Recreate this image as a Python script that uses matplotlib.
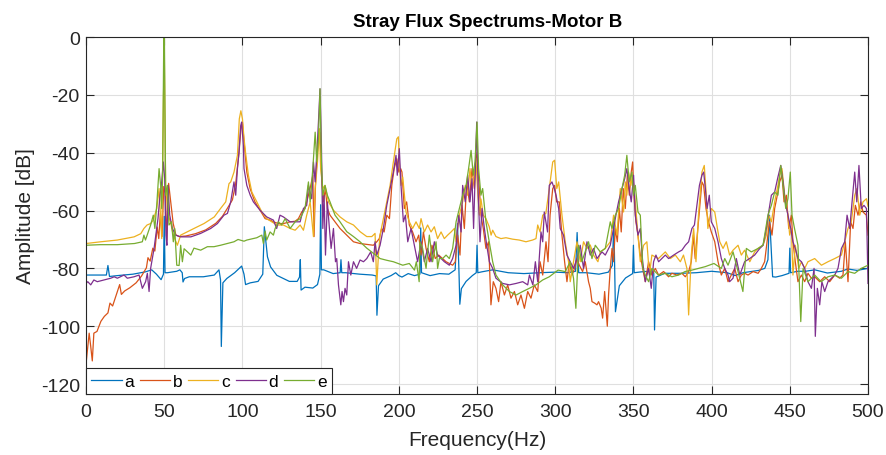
import numpy as np
import matplotlib
matplotlib.use("Agg")
import matplotlib.pyplot as plt

plt.rcParams['font.family'] = ['Liberation Sans', 'DejaVu Sans']
plt.rcParams['axes.unicode_minus'] = False

# (frequency Hz, amplitude dB)
a = [(0, -82.3), (13, -82.3), (14, -79), (15, -82.8), (20, -82.5), (30, -82), (38, -81.2), (42, -80.5),
     (45, -82), (48, -83.9), (49.5, -82), (50, -62), (50.5, -81.5), (52, -81.5), (58, -81), (60, -80.5),
     (61.5, -81.5), (62, -84.7), (63, -83.5), (66, -82.9), (75, -82.9), (82, -82.3), (85, -80.5), (86, -84),
     (86.5, -107), (87.5, -85), (90, -83.5), (95, -81.5), (99.5, -79.2), (101, -82), (102, -85.6), (105, -85),
     (110, -84.5), (113, -82), (114, -65.6), (116, -76), (118, -79.5), (122, -82.4), (130, -84.5), (135, -84.5),
     (136.5, -83), (137, -77), (137.5, -87.5), (140, -86.5), (145, -86.8), (148, -85.6), (149.5, -82), (150, -58),
     (150.5, -80.5), (152, -80.5), (158, -81.8), (162.5, -81.5), (163, -77), (163.5, -81.5), (166, -81.5),
     (175, -82), (183, -82.3), (185.5, -82.6), (186, -96.2), (187, -86), (190, -83.7), (195, -82.5), (198, -81.5),
     (200, -82.5), (202, -83), (206, -81.8), (210, -82.5), (213.5, -82), (214, -66), (214.5, -81.5), (220, -82.5),
     (226, -81.8), (232, -82), (236, -80.5), (237.5, -64.5), (238.5, -82), (239, -92.4), (240, -87), (243, -84.5),
     (247, -82.5), (249.5, -81.5), (250, -72), (250.5, -81.5), (253, -81.2), (260, -80.5), (270, -81.5),
     (280, -81.8), (290, -81.5), (300, -81.3), (308, -81.5), (313, -81), (314, -67.6), (315, -81.5), (320, -81.5),
     (328, -82), (334, -81.3), (336.5, -79), (337.5, -64), (338.5, -95), (341, -86), (345, -83.3), (349.5, -81.8),
     (350, -72), (350.5, -81.5), (355, -81.2), (360, -81), (363, -81.5), (363.5, -101.3), (364.5, -83),
     (370, -81.7), (380, -81.7), (390, -81.5), (400, -81), (410, -81.5), (415, -82.5), (420, -81.5), (430, -80.7),
     (434, -80), (436, -77), (437, -61.6), (439, -82.9), (441, -83), (445, -82.5), (449.5, -81.7), (450, -73),
     (450.5, -81.5), (455, -81), (460, -81), (466, -80.5), (474, -81.6), (483, -81), (487, -80.2), (493, -80.7),
     (500, -80)]

b = [(0, -113), (2, -102.4), (3, -107), (4, -112), (5, -102.4), (7, -101.8), (9.5, -98.3), (11.7, -96.6),
     (14, -95.4), (15.3, -92), (17, -93), (19.4, -89), (21.5, -85.6), (22.6, -89), (24.7, -87.8), (28, -86.7),
     (32, -85), (35.4, -82.7), (38.6, -79.8), (39.6, -76.3), (41, -77.5), (42.7, -73), (44, -74), (45.5, -65.7),
     (46.5, -69.7), (47.5, -61), (48.6, -69), (49.7, -51.7), (50.7, -54), (51.7, -70.3), (52.8, -50.6),
     (54, -56.3), (55.7, -64.4), (57.4, -68.4), (59.5, -69), (63.8, -68.8), (70, -68), (76.5, -66.7), (83, -64.4),
     (87.2, -62), (90.4, -59.2), (93.6, -56.3), (95.7, -50.6), (97.8, -40), (99, -32), (100, -29.5), (101, -36),
     (102.8, -46.7), (104.9, -52.4), (108, -57), (111.3, -59.9), (114.5, -62.8), (117.7, -63.3), (119.8, -63.9),
     (123, -64.5), (126.2, -64.5), (130.5, -63.9), (133.7, -63.7), (135.8, -62.8), (137.9, -60.5), (140, -59.3),
     (142.2, -54.7), (143.7, -51.3), (145, -47.8), (145.8, -69), (146.7, -51.3), (148, -38.6), (148.8, -35.2),
     (149.6, -33), (150.7, -49), (151.8, -57), (153, -52.4), (154.3, -59.3), (156, -61.6), (159.2, -63.9),
     (162.4, -66.2), (166.7, -68.5), (171, -70.8), (175.2, -71.4), (179.5, -71.7), (183.7, -72), (185.9, -70.8),
     (187.5, -69.7), (189, -66.2), (190.6, -67.4), (192.3, -61.6), (194, -62.8), (195.5, -51.3), (197, -45.5),
     (198.7, -42.1), (200, -46.7), (201.2, -45.5), (202, -46.7), (203.5, -59.3), (205, -57), (206.7, -65),
     (208.8, -67.4), (211, -70.8), (212.7, -68.5), (214.2, -75.4), (215.7, -67.4), (217.4, -73.1), (219.5, -77.7),
     (221.2, -72), (223.3, -76.6), (225.5, -75.4), (228, -76.6), (230.2, -77.7), (232.3, -78.3), (234.4, -78.9),
     (236.1, -77.7), (237.6, -68.5), (239.1, -75.4), (240.4, -58.2), (241.9, -66.2), (243.4, -50.1), (245.1, -57),
     (246.8, -45.5), (248.3, -52.4), (249.3, -40), (250.3, -44), (251.5, -52.4), (252.5, -61.6), (254, -66.2),
     (255.7, -73.1), (257.4, -70.8), (258.9, -92.6), (260.4, -84.6), (262.1, -86.9), (263.8, -91.5),
     (265.3, -84.6), (267.5, -89.2), (269.6, -85.7), (271.7, -90.3), (273.9, -88), (276, -92.6), (278.1, -89.2),
     (280.3, -93.8), (282.4, -88), (284.5, -90.3), (286.6, -85.7), (288.8, -88), (290.3, -77.7), (292, -82.3),
     (294.1, -70.8), (295.4, -77.7), (296.7, -61.6), (298.4, -52.4), (299.6, -51.3), (300.9, -57), (302.6, -57),
     (304.3, -68.5), (306, -77.7), (307.5, -84.6), (309, -77.7), (310.7, -82.3), (312.4, -80), (313.9, -76.6),
     (315.4, -78.9), (317.5, -81.1), (319.2, -77.7), (321.3, -84.6), (322.4, -86.9), (323.5, -91.5),
     (325.2, -92), (326.7, -92.6), (327.7, -91.5), (329.4, -93.8), (330.3, -97.2), (331.6, -88), (332.4, -93.8),
     (333.3, -100), (334.1, -89.2), (335.2, -80), (336.3, -73.1), (337.3, -77.7), (338.4, -66.2), (339.7, -70.8),
     (341, -59.3), (342.2, -67.4), (343.5, -52.4), (344.8, -59.3), (346.1, -47.8), (347.4, -54.7),
     (348.6, -46.7), (349.5, -43.2), (350.3, -54.7), (351.6, -63.9), (352.9, -68.5), (354.4, -75.4),
     (355.9, -80), (357.6, -84.6), (359.7, -77.7), (361.8, -82.3), (364, -80), (366.1, -82.3), (369.3, -81.1),
     (372.5, -82.9), (374.6, -81.7), (377.8, -82.3), (381, -81.7), (383.2, -82.9), (385.3, -81.1), (387, -77.7),
     (388.3, -68.5), (389.5, -76.6), (391.2, -66.2), (392.7, -57), (393.8, -50.1), (394.9, -51.3),
     (396.4, -59.3), (398, -63.9), (399.8, -67.4), (402, -70.8), (404.1, -77.7), (406.2, -82.3), (408.4, -80),
     (410.5, -84.6), (412.6, -82.3), (414.8, -80), (416.9, -84.6), (419, -82.3), (421.1, -81.7), (423.3, -82.3),
     (426.5, -81.1), (429.7, -81.7), (431.8, -80), (433.9, -77.7), (436, -68.5), (437, -63.9), (438.6, -68.5),
     (440.3, -59.3), (442, -54.7), (443.5, -50.1), (445, -47.8), (446.3, -57), (447.8, -54.7), (449.3, -66.2),
     (451, -61.6), (452, -70.8), (453.5, -77.7), (455.2, -84.6), (457.4, -82.3), (459.5, -84.6), (461.6, -81.7),
     (463.8, -83.4), (465.9, -82.9), (469.1, -84.6), (472.3, -82.9), (475.5, -84.6), (478.7, -82.3),
     (481.9, -83.4), (484, -82.3), (485.5, -70.8), (487.2, -84.6), (488.9, -63.9), (490.4, -66.2),
     (491.9, -58.2), (493.6, -61.6), (495.3, -57), (496.8, -60.5), (498.9, -61.6), (500, -68.5)]

c = [(0, -71.4), (9.4, -70.8), (20, -70.2), (30.7, -69.1), (35, -68), (37, -66.2), (39, -65), (41.3, -64.5),
     (43, -63.3), (45.2, -59.3), (46.7, -52.4), (48.4, -69.7), (49.5, -20), (50.1, -8), (50.9, -51.3),
     (52.4, -61.6), (54, -63.9), (55.8, -68.5), (58.4, -72), (60.5, -68.5), (62.7, -67.9), (69, -66.2),
     (75.4, -64.5), (82, -62.2), (86, -59.3), (89.3, -57), (91.4, -50.7), (92.5, -50.1), (94.6, -46.7),
     (96.8, -40.9), (98, -28.3), (99, -25.5), (100, -28.3), (101, -35), (102, -40), (103.8, -47.8), (106, -53.6),
     (109.2, -57), (112.4, -60.5), (115.5, -62.8), (118.7, -63.9), (122, -65), (126.2, -65), (130.5, -66.2),
     (133.7, -66.8), (136.9, -65), (139, -66.8), (141.1, -61.6), (143.3, -57), (145.4, -69), (146.5, -52.4),
     (148, -43.2), (149.2, -31.7), (150, -45.5), (151.4, -52.4), (152.8, -51.3), (155, -57), (158.2, -59.9),
     (162.4, -62.2), (166.7, -63.9), (171, -65), (175.2, -67.3), (179.5, -69), (182.7, -69), (184.8, -67.9),
     (185.9, -85.7), (187, -75), (188, -68.5), (190.1, -62.8), (192.3, -57), (194.4, -51.3), (196.5, -43.2),
     (198.7, -35.2), (199.7, -34.5), (200.3, -43.2), (201.4, -51.3), (202.5, -48.4), (204.6, -60.5),
     (206.7, -63.9), (208.8, -66.2), (211, -63.9), (213.1, -66.2), (214.2, -62.8), (216.3, -67.4), (218.4, -65),
     (220.6, -67.4), (222.7, -65.6), (224.8, -69.7), (227, -67.4), (229.1, -69.7), (231.2, -68.5), (233.4, -67.4),
     (235.5, -66.2), (236.6, -70.8), (238.7, -61.6), (240.8, -57), (242.5, -51.3), (244, -54.7), (245.5, -45.5),
     (246.8, -52.4), (248.3, -47.8), (249.3, -42), (250.3, -52.4), (251.5, -61.6), (252.5, -56), (254, -61.6),
     (255.7, -62.8), (257.8, -65.6), (259, -68.5), (260, -66.8), (262.1, -69), (265.3, -69.7), (268.5, -69.4),
     (272.8, -69.9), (277, -70.2), (281.3, -70.8), (285.5, -70.2), (287.7, -69.7), (288.8, -65), (290.3, -67.4),
     (292, -61.6), (294, -61), (296.2, -52.4), (298.4, -43.2), (299.6, -42.6), (301, -52.4), (302.2, -50.1),
     (304.3, -61.6), (306.4, -70.8), (308.5, -77.7), (309.6, -84.6), (311.7, -77.7), (313.9, -70.8),
     (316, -77.7), (318.1, -70.8), (320.3, -73.1), (322.4, -71.9), (324.5, -75.4), (327.3, -77.7),
     (328.8, -74.3), (332, -73.1), (335.2, -70.8), (337.3, -61.6), (339.5, -68.5), (341.6, -52.4),
     (343.7, -60.5), (344.8, -50.1), (345.8, -54.7), (346.9, -46.7), (348.4, -51.3), (349.5, -47.8), (351.2, -57),
     (352.9, -68.5), (354.4, -77.7), (356.5, -72), (358.6, -70.8), (360.2, -82.3), (361.8, -75.4), (366, -76.6),
     (370.4, -74.3), (373.6, -76.6), (376.8, -75.4), (380, -77.7), (382, -75.4), (384.2, -80), (385.3, -96.1),
     (387, -75.4), (388.5, -66.2), (390, -77.7), (391.6, -61.6), (393.8, -46.7), (395.3, -44.4), (396.3, -52.4),
     (397.6, -66.2), (399.8, -59.3), (402, -60.5), (403.7, -66.2), (405.2, -70.8), (407.3, -73.1), (409.4, -70.8),
     (411.5, -75.4), (413.7, -73.7), (416.9, -72), (419, -75.4), (421.1, -73.7), (424.4, -77.7), (427.5, -74.3),
     (429.7, -73.1), (432.9, -72), (435, -68.5), (436.5, -61.6), (438.2, -63.9), (440.3, -57), (442.4, -51.3),
     (443.5, -47.8), (445, -45.5), (446.7, -54.7), (448.8, -61.6), (449.9, -68.5), (451, -66.2), (452, -82.3),
     (453.5, -72), (455.7, -80), (457.4, -77.7), (459.5, -80), (461.6, -77.7), (465.9, -76.6), (470.2, -78.9),
     (474.4, -77.7), (478.7, -76.6), (483, -75.4), (485.1, -70.8), (487.2, -66.2), (489.3, -63.9), (491.5, -54.7),
     (492.9, -52.4), (494.7, -61.6), (496.8, -57), (499, -55.9), (500, -58.5)]

d = [(0, -85.2), (1.1, -84.6), (3, -85.7), (5, -84), (7.2, -84.6), (11.5, -84), (15.8, -83.4), (18, -82.9),
     (20, -83.4), (22, -82.9), (24.3, -82.3), (26.4, -83.4), (30.7, -82.9), (33.9, -82.3), (36, -86.9),
     (38.1, -84.6), (39.2, -81.7), (40.3, -88), (41.3, -80), (43.5, -73.1), (45.2, -66.2), (46, -62.8),
     (47.3, -54.7), (48.4, -50.1), (49.4, -43.2), (50.3, -49), (51.1, -68.5), (51.7, -72), (52.4, -51.3),
     (53.5, -61.6), (55.2, -66.2), (57.3, -68.5), (60.5, -69.1), (67, -69.1), (73.3, -67.9), (79.7, -66.2),
     (84, -64.5), (88.2, -61.6), (90.4, -61), (92.5, -57), (94.6, -50.1), (95.7, -54.7), (96.8, -45.5),
     (97.8, -39.8), (98.9, -30.6), (99.5, -29.4), (100.6, -37.5), (101, -45.5), (102.8, -51.3), (105, -54.7),
     (107, -57), (111.3, -59.9), (115.5, -62.2), (119.8, -63.3), (121.9, -66.2), (124, -61.6), (126.2, -62.2),
     (130.5, -63.9), (134.7, -63.9), (136.9, -63.9), (139, -59.3), (141.1, -58.2), (142.2, -51.3), (144.3, -55.9),
     (145.4, -43.2), (146.5, -50.1), (147.5, -40.9), (148.6, -29.4), (149.6, -17.9), (150.5, -37.5),
     (151.4, -66.2), (152.2, -54.7), (153.1, -75.4), (154.3, -57), (155.6, -66.2), (156.7, -73.1), (158.2, -66.2),
     (159.5, -77.7), (160.3, -76.6), (161.4, -85.7), (162.9, -92.6), (163.7, -88), (164.6, -91.5), (165.6, -86.9),
     (166.7, -89.2), (167.8, -77.7), (169.3, -82.3), (171, -77.7), (173, -80), (175.2, -77.1), (177.4, -77.7),
     (179.5, -76.6), (182, -74.3), (183.7, -77.7), (184.8, -70.8), (185.9, -75.4), (188, -72), (190.1, -66.2),
     (192.3, -58.2), (194.4, -52.4), (196.5, -46.7), (198.2, -40.9), (199, -47.8), (200.3, -38.6), (201.4, -51.3),
     (202.9, -63.9), (204.2, -61.6), (205.7, -70.8), (207.8, -66.2), (209.9, -72), (212, -77.7), (214.2, -70.8),
     (216.3, -77.7), (218.4, -73.1), (220.6, -77.7), (222.7, -70.8), (224.8, -75.4), (227, -76.6), (229.1, -77.7),
     (232.3, -78.9), (234.4, -76.6), (236.6, -72), (238.3, -61.6), (239.8, -67.4), (240.8, -51.3), (242.5, -57),
     (244, -47.8), (245.5, -57), (246.8, -49), (247.8, -66.2), (248.9, -45.5), (249.8, -29.4), (250.8, -54.7),
     (251.9, -70.8), (253.2, -59.3), (254.7, -66.2), (256.2, -72), (257.9, -77.7), (260, -80), (262.1, -83.4),
     (266.4, -85.2), (270.7, -85.7), (275, -85.2), (279.2, -84.6), (282.4, -85.7), (283.5, -82.3), (285.7, -85.7),
     (287.3, -77.7), (288.8, -84.6), (290.9, -67.4), (292, -70.8), (293, -60.5), (295.1, -67.4), (296.2, -51.3),
     (297.9, -50.1), (299.4, -52.4), (300.5, -54.7), (302.2, -59.3), (303.2, -66.2), (305.3, -68.5),
     (307.5, -75.4), (309.6, -77.7), (311.7, -80), (313.9, -76.6), (316, -72), (318.1, -80), (320.3, -70.8),
     (322.4, -75.4), (324.5, -73.1), (326.7, -76.6), (329.9, -74.3), (332, -75.4), (335.2, -72), (337.3, -66.2),
     (338.8, -61.6), (340.5, -57), (342.7, -52.4), (344.4, -49), (345.8, -45.5), (347.3, -52.4), (348.6, -57),
     (350.1, -47.8), (351.2, -61.6), (352.9, -68.5), (354.4, -66.2), (355.9, -77.7), (357.6, -84.6),
     (359.7, -80), (361.4, -86.9), (362.9, -77.7), (364.4, -75.4), (366.1, -77.7), (368.2, -76.6), (370.4, -75.4),
     (372.5, -76.6), (375.7, -75.4), (378.9, -74.3), (381, -73.7), (383.2, -72), (385.3, -70.8), (387.4, -66.2),
     (389, -65), (390.6, -58.2), (392.2, -51.3), (393.8, -47.8), (394.9, -46.7), (396, -52.4), (397.1, -59.3),
     (398.5, -54.7), (399.8, -63.9), (402, -66.2), (404.1, -70.8), (406.2, -76.6), (408.4, -80), (410.5, -82.3),
     (411.5, -84.6), (413.7, -83.4), (415.8, -76.6), (418, -82.3), (421.1, -77.7), (424.3, -76.6), (427.5, -75.4),
     (430.8, -73.1), (432.9, -72), (435, -66.2), (436.5, -60.5), (438.2, -54.7), (440.3, -53.6), (442.4, -48.4),
     (444.2, -44.4), (445.7, -50.1), (447.1, -57), (448.8, -61.6), (450.6, -66.2), (452, -70.8), (453.5, -73.1),
     (455.2, -76.6), (457.4, -77.7), (459.5, -80), (461.6, -84.6), (463.8, -86.9), (465.5, -80), (466.3, -103.5),
     (467.6, -86.9), (469.1, -92.6), (470.5, -84.6), (472.3, -88), (474.4, -84.6), (476.6, -83.4), (478.7, -82.3),
     (480.8, -80), (483, -73.1), (485.1, -70.8), (486.6, -61.6), (488.3, -66.2), (489.8, -57), (491.5, -46.7),
     (492.8, -57), (494.2, -44.4), (495.7, -59.3), (497.4, -58.2), (499, -59.3), (500, -85.2)]

e = [(0, -72), (9, -71.8), (20, -71.8), (31, -71.4), (36, -70.8), (37, -68.5), (38, -70.2), (41.3, -65),
     (43, -61.6), (44, -66.2), (45.2, -58.2), (46.7, -45.5), (47.7, -51.3), (48.4, -59.3), (49, -46.7),
     (49.7, 0), (50.1, 0), (50.9, -54.7), (52, -51.3), (53, -65), (54.6, -63.9), (55.8, -70.8), (56.7, -66.2),
     (58, -78.9), (59.5, -79), (60.5, -72), (61.6, -77.7), (62.7, -73.2), (64.8, -74.3), (67, -75.4), (69, -73),
     (73.3, -73.7), (77.6, -72.5), (81.8, -72.5), (86, -72), (90.4, -71.4), (94.6, -70.8), (97.2, -70),
     (101, -70.6), (102.8, -70.2), (109.2, -69.4), (112.4, -68.5), (113.4, -71.4), (114.5, -67.1),
     (115.5, -70.2), (117.7, -67.4), (119.8, -68.5), (120.9, -66.2), (123, -63.9), (125.1, -65), (127.3, -62.8),
     (130.5, -66.2), (133.7, -63.9), (136.9, -62.8), (140, -59.3), (142.2, -50.1), (143.3, -57), (145, -45.5),
     (146.5, -32.9), (147.5, -43.2), (148.6, -35.2), (149.6, -17.9), (150.5, -43.2), (151.4, -54.7),
     (152.8, -51.3), (154.3, -54.7), (156, -57), (159.2, -61.6), (162.4, -63.9), (166.7, -67.3), (171, -69),
     (175.2, -70.8), (179.5, -73), (183.7, -74.8), (188, -76.6), (192.3, -77.2), (196.5, -77.7), (202.5, -78.9),
     (206.7, -78.3), (210, -80.6), (211.2, -77.7), (213, -84.6), (213.5, -70.8), (215.2, -73.1), (217.4, -80),
     (219.5, -68.5), (221.6, -77.7), (223.8, -70.8), (224.8, -80), (225.9, -76.6), (228, -76.6), (230.2, -75.4),
     (232.3, -76.6), (234.4, -73.1), (236.6, -63.9), (238.7, -59.3), (240.8, -54.7), (243, -51.3),
     (244.6, -45.5), (246.2, -39.2), (247.6, -47.8), (248.7, -43.2), (250, -29.4), (251, -45.5), (252.5, -54.7),
     (253.6, -52.4), (255.7, -63.9), (257.8, -70.8), (260, -77.7), (262.1, -82.3), (266.4, -85.7), (270.7, -88),
     (275, -89.2), (279.2, -88), (283.4, -86.9), (287.7, -85.7), (292, -84), (296.2, -82.9), (301.8, -80.6),
     (306.4, -81.1), (309.6, -77.7), (311.7, -83.4), (313.2, -93.8), (314.9, -72), (317, -77.7), (321.3, -70.8),
     (323.5, -76.6), (325.6, -72), (328.8, -74.3), (332, -73.1), (335.2, -63.9), (336.3, -66.2), (338.4, -61.6),
     (340.5, -59.3), (342.7, -52.4), (344.4, -47.8), (345.8, -40.9), (347.3, -50.1), (349, -46.7),
     (350.1, -54.7), (351.2, -51.3), (352.9, -60.5), (354.4, -61.6), (356, -80), (357.6, -82.3), (359.7, -84.6),
     (361.8, -80), (366, -82.3), (370.4, -81.7), (374.6, -82.9), (378.9, -82.3), (383, -81.1), (387.4, -80.6),
     (391.6, -80), (395.9, -79.4), (401.5, -78.3), (406.2, -80), (408.4, -76.6), (410.5, -78.9), (413.7, -74.3),
     (416.9, -81.1), (420, -88), (422.2, -73.1), (425.4, -74.3), (429.7, -73.1), (432.9, -71.9), (436, -61.6),
     (438.2, -58.2), (440.3, -53.6), (442.4, -54.7), (444.2, -44.4), (445.7, -51.3), (447.4, -59.3),
     (448.8, -55.9), (450.3, -46.7), (451.4, -61.6), (453, -66.2), (455.2, -72), (457, -98.4), (458.5, -80),
     (461.6, -84.6), (465.9, -82.3), (470, -84.6), (474.4, -82.9), (478.7, -82.3), (483, -83.4), (487.2, -81.1),
     (491.5, -81.7), (495.7, -80), (500, -78.9)]

labels = ['a', 'b', 'c', 'd', 'e']
colors = ['#0072BD', '#D95319', '#EDB120', '#7E2F8E', '#77AC30']

fig = plt.figure(figsize=(8.87, 4.56), dpi=100)
ax = fig.add_axes([0.097, 0.134, 0.8816, 0.7826])

for series, lab, col in zip([a, b, c, d, e], labels, colors):
    arr = np.array(series)
    ax.plot(arr[:, 0], arr[:, 1], color=col, lw=0.9, label=lab)

ax.set_xlim(0, 500)
ax.set_ylim(-123.4, 0)
ax.set_xticks(np.arange(0, 501, 50))
ax.set_yticks(np.arange(-120, 1, 20))
ax.grid(True, color='#dfdfdf', lw=0.8)
ax.set_axisbelow(True)
ax.tick_params(direction='in', length=5.5, width=0.8, top=True, right=True,
               labelsize=14, colors='#262626')
ax.tick_params(axis='x', pad=6.5)
ax.tick_params(axis='y', pad=4.5)
for s in ax.spines.values():
    s.set_color('#262626')
    s.set_linewidth(0.8)

title = ax.set_title('Stray Flux Spectrums-Motor B', fontsize=13.5, fontweight='bold', pad=8)
title.set_x(0.513)
ax.set_xlabel('Frequency(Hz)', fontsize=15, color='#262626', labelpad=7)
ax.set_ylabel('Amplitude [dB]', fontsize=15, color='#262626', labelpad=4)

leg = ax.legend(loc='lower left', ncol=5, fontsize=12.5, frameon=True, fancybox=False,
                edgecolor='#262626', borderaxespad=0, handlelength=1.75, handletextpad=0.15,
                columnspacing=0.33, borderpad=0.3, framealpha=1)
leg.get_frame().set_linewidth(0.8)

fig.savefig('out.png', dpi=100)
